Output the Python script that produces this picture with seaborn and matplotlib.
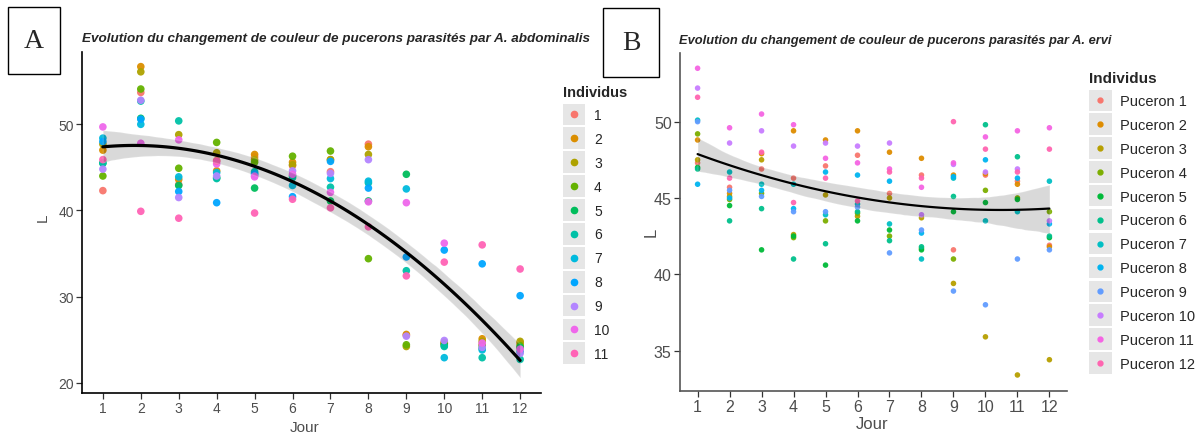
import numpy as np
import pandas as pd
import seaborn as sns
import matplotlib.pyplot as plt
from matplotlib.legend_handler import HandlerBase
from matplotlib.patches import Rectangle
from matplotlib.lines import Line2D

sns.set_theme(style="white")
plt.rcParams['font.family'] = ['Liberation Sans', 'DejaVu Sans']

jours = list(range(1, 13))

# A. abdominalis : L par individu, jours 1 a 12
abd_1 = [42.3, 53.7, 43.0, 45.8, 46.2, 45.2, 44.5, 47.7, 25.5, 24.6, 24.5, 24.0]
abd_2 = [47.0, 56.7, 43.6, 44.6, 46.5, 45.6, 45.9, 47.4, 25.6, 24.7, 25.1, 24.6]
abd_3 = [47.7, 56.1, 48.8, 46.7, 45.9, 45.3, 45.9, 46.5, 24.2, 24.5, 24.8, 24.8]
abd_4 = [44.0, 54.1, 44.9, 47.9, 45.6, 46.3, 46.9, 34.4, 24.4, 24.5, 24.3, 24.3]
abd_5 = [45.5, 50.7, 42.9, 43.8, 42.6, 44.0, 41.1, 41.1, 44.2, 24.3, 24.0, 24.1]
abd_6 = [45.5, 52.7, 50.4, 43.7, 44.5, 43.8, 42.7, 43.2, 33.0, 24.2, 22.9, 22.7]
abd_7 = [48.4, 50.0, 43.9, 44.4, 44.3, 42.9, 43.7, 43.4, 42.5, 22.9, 23.8, 23.6]
abd_8 = [48.0, 50.6, 42.2, 40.9, 44.2, 41.6, 45.7, 42.6, 34.6, 35.4, 33.8, 30.1]
abd_9 = [44.8, 52.8, 41.5, 44.0, 44.0, 44.6, 44.3, 45.9, 25.4, 24.9, 24.1, 23.4]
abd_10 = [49.7, 47.8, 48.2, 45.4, 43.9, 44.2, 42.1, 41.0, 40.9, 36.2, 24.6, 23.9]
abd_11 = [45.9, 39.9, 39.1, 45.7, 39.7, 41.3, 40.3, 38.1, 32.4, 34.0, 36.0, 33.2]

# A. ervi
erv_1 = [47.3, 45.7, 46.9, 46.3, 47.1, 47.8, 45.3, 46.5, 41.6, 46.5, 46.1, 41.9]
erv_2 = [48.8, 45.3, 47.9, 49.4, 48.8, 49.4, 48.0, 47.6, 46.5, 46.6, 45.9, 41.8]
erv_3 = [47.5, 45.1, 47.5, 42.6, 45.2, 43.8, 45.0, 43.7, 39.4, 35.9, 33.4, 34.4]
erv_4 = [49.2, 44.9, 45.3, 42.4, 43.5, 44.0, 42.5, 41.7, 41.0, 45.5, 45.0, 44.1]
erv_5 = [47.0, 44.5, 41.6, 42.5, 40.6, 43.5, 42.9, 41.6, 44.1, 44.7, 44.9, 42.4]
erv_6 = [46.9, 43.5, 44.3, 41.0, 42.0, 44.1, 42.2, 41.8, 45.1, 49.8, 47.7, 42.5]
erv_7 = [50.1, 46.7, 45.9, 45.9, 43.9, 44.6, 43.3, 41.0, 46.3, 43.5, 44.1, 46.1]
erv_8 = [45.9, 45.0, 45.5, 44.3, 46.7, 46.5, 46.1, 42.7, 46.4, 47.5, 46.3, 43.3]
erv_9 = [50.0, 45.5, 45.1, 44.1, 44.1, 44.4, 41.4, 42.9, 38.9, 38.0, 41.0, 41.6]
erv_10 = [52.2, 48.6, 49.4, 48.4, 48.6, 48.4, 48.6, 43.9, 47.2, 46.7, 46.9, 43.5]
erv_11 = [53.5, 49.6, 50.5, 49.8, 47.6, 47.3, 46.9, 45.7, 47.3, 49.0, 49.4, 49.6]
erv_12 = [51.6, 46.3, 48.0, 44.7, 46.3, 44.8, 46.7, 46.3, 50.0, 48.2, 46.7, 48.2]

noms_A = [str(i) for i in range(1, 12)]
noms_B = ["Puceron %d" % i for i in range(1, 13)]
pal_A = ["#F8766D", "#DB8E00", "#AEA200", "#64B200", "#00BD5C", "#00C1A7",
         "#00BADE", "#00A6FF", "#B385FF", "#EF67EB", "#FF63B6"]
pal_B = ["#F8766D", "#DE8C00", "#B79F00", "#7CAE00", "#00BA38", "#00C08B",
         "#00BFC4", "#00B4F0", "#619CFF", "#C77CFF", "#F564E3", "#FF64B0"]

series_A = [abd_1, abd_2, abd_3, abd_4, abd_5, abd_6, abd_7, abd_8, abd_9, abd_10, abd_11]
series_B = [erv_1, erv_2, erv_3, erv_4, erv_5, erv_6, erv_7, erv_8, erv_9, erv_10, erv_11, erv_12]


def to_df(noms, series):
    rows = []
    for nom, vals in zip(noms, series):
        for j, v in zip(jours, vals):
            rows.append((nom, j, v))
    return pd.DataFrame(rows, columns=["Individu", "Jour", "L"])


dfA = to_df(noms_A, series_A)
dfB = to_df(noms_B, series_B)

W, H = 1202, 435
fig = plt.figure(figsize=(W / 100, H / 100), dpi=100)


def px(x0, y0, x1, y1):
    return [x0 / W, 1 - y1 / H, (x1 - x0) / W, (y1 - y0) / H]


axA = fig.add_axes(px(82, 53, 541, 394))
axB = fig.add_axes(px(680, 54, 1067, 392))


class KeyHandler(HandlerBase):
    # grey key square (ggplot style) with a dot in the middle; sizes in points
    def __init__(self, ms, kh, **kw):
        super().__init__(**kw)
        self.ms = ms
        self.kh = kh

    def create_artists(self, legend, orig, xd, yd, w, h, fs, trans):
        cy = -yd + h / 2
        bg = Rectangle((-xd, cy - self.kh / 2), w, self.kh, facecolor="#e6e6e6",
                       edgecolor="none", transform=trans)
        dot = Line2D([-xd + w / 2], [cy], marker="o", ms=self.ms,
                     color=orig.get_color(), ls="none", transform=trans)
        return [bg, dot]


def panel(ax, df, noms, pal, s, lw, ylim, yticks, tick_fs, spine_col, title, title_xy, title_fs):
    sns.scatterplot(data=df, x="Jour", y="L", hue="Individu", hue_order=noms,
                    palette=pal, s=s, linewidth=0, alpha=0.95, legend=False, ax=ax)
    sns.regplot(data=df, x="Jour", y="L", order=2, scatter=False, color="black",
                line_kws={"lw": lw}, seed=3, ax=ax)
    ax.set_xlim(0.45, 12.55)
    ax.set_ylim(*ylim)
    ax.set_xticks(jours)
    ax.set_yticks(yticks)
    ax.tick_params(axis="both", which="both", length=4, width=0.9, color="#333333",
                   labelsize=tick_fs, labelcolor="#4d4d4d", pad=2, bottom=True, left=True)
    for side in ["top", "right"]:
        ax.spines[side].set_visible(False)
    for side in ["left", "bottom"]:
        ax.spines[side].set_color(spine_col)
        ax.spines[side].set_linewidth(1.2)
    ax.set_xlabel("")
    ax.set_ylabel("")
    fig.text(title_xy[0] / W, 1 - title_xy[1] / H, title, fontsize=title_fs,
             fontweight="bold", fontstyle="italic", va="center", ha="left")


panel(axA, dfA, noms_A, pal_A, 30, 2.3, (18.8, 58.4), [20, 30, 40, 50], 10,
      "black", "Evolution du changement de couleur de pucerons parasités par A. abdominalis",
      (82, 39), 9.7)
panel(axB, dfB, noms_B, pal_B, 16, 1.6, (32.35, 54.5), [35, 40, 45, 50], 11.5,
      "#555555", "Evolution du changement de couleur de pucerons parasités par A. ervi",
      (679, 41), 9.3)

fig.text(305 / W, 1 - 428 / H, "Jour", fontsize=11, color="#4d4d4d", ha="center", va="center")
fig.text(43 / W, 1 - 218 / H, "L", fontsize=11, color="#4d4d4d", ha="center", va="center", rotation=90)
fig.text(872 / W, 1 - 425 / H, "Jour", fontsize=12, color="#4d4d4d", ha="center", va="center")
fig.text(651 / W, 1 - 232 / H, "L", fontsize=12, color="#4d4d4d", ha="center", va="center", rotation=90)

# legends
hA = [Line2D([], [], color=c) for c in pal_A]
legA = fig.legend(hA, noms_A, title="Individus", loc="upper left",
                  bbox_to_anchor=(563 / W, 1 - 86 / H), bbox_transform=fig.transFigure,
                  frameon=False, fontsize=10, borderpad=0, borderaxespad=0,
                  handlelength=1.58, handleheight=1.5, labelspacing=0.5,
                  handletextpad=0.65, alignment="left",
                  handler_map={Line2D: KeyHandler(4.5, 15.7)})
legA.get_title().set_fontweight("bold")
legA.get_title().set_fontsize(10.5)

hB = [Line2D([], [], color=c) for c in pal_B]
legB = fig.legend(hB, noms_B, title="Individus", loc="upper left",
                  bbox_to_anchor=(1089 / W, 1 - 72 / H), bbox_transform=fig.transFigure,
                  frameon=False, fontsize=10.5, borderpad=0, borderaxespad=0,
                  handlelength=1.55, handleheight=1.45, labelspacing=0.45,
                  handletextpad=0.55, alignment="left",
                  handler_map={Line2D: KeyHandler(3.5, 15.4)})
legB.get_title().set_fontweight("bold")
legB.get_title().set_fontsize(11)

# boxed panel letters
for (x0, y0, x1, y1, lab) in [(8, 8, 60, 75, "A"), (603, 9, 659, 78, "B")]:
    fig.add_artist(Rectangle((x0 / W, 1 - y1 / H), (x1 - x0) / W, (y1 - y0) / H,
                             transform=fig.transFigure, fill=False, ec="black", lw=1))
    fig.text((x0 + x1) / 2 / W, 1 - (y0 + y1) / 2 / H, lab, fontsize=20,
             family=["Liberation Serif", "DejaVu Serif"], ha="center", va="center")

fig.savefig("out.png", dpi=100, facecolor="white")
